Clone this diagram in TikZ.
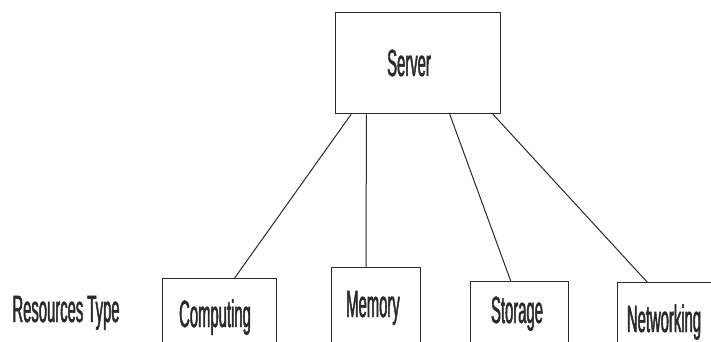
\documentclass[tikz,border=0pt]{standalone}
\usepackage{fontspec}
\newfontfamily\condfont[FakeStretch=0.39,FakeBold=1.2]{Liberation Sans}
\usetikzlibrary{calc}
\definecolor{ink}{HTML}{2A2A2A}
\tikzset{
  box/.style={draw=ink, line width=1.3pt, fill=white, rectangle, inner sep=0pt, anchor=north west},
  lbl/.style={font=\condfont\fontsize{38}{42}\selectfont, text=ink, anchor=base, inner sep=0pt},
  link/.style={draw=ink, line width=1pt}
}
\begin{document}
\begin{tikzpicture}[x=1pt,y=-1pt]
\clip (0,0) rectangle (711,342);
\fill[white] (0,0) rectangle (711,342);
% boxes
\node[box, minimum width=165pt, minimum height=101pt] (server) at (335,12) {};
\node[box, minimum width=114pt, minimum height=90pt] (comp) at (162,278) {};
\node[box, minimum width=89pt, minimum height=100pt] (mem) at (331,267) {};
\node[box, minimum width=98pt, minimum height=90pt] (stor) at (470,281) {};
\node[box, minimum width=110pt, minimum height=90pt] (net) at (617,282) {};
% connectors
\draw[link] ($(server.south west)!0.097!(server.south east)$) -- ($(comp.north west)!0.63!(comp.north east)$);
\draw[link] ($(server.south west)!0.188!(server.south east)$) -- ($(mem.north west)!0.39!(mem.north east)$);
\draw[link] ($(server.south west)!0.69!(server.south east)$) -- ($(stor.north west)!0.41!(stor.north east)$);
\draw[link] ($(server.south west)!0.95!(server.south east)$) -- ($(net.north west)!0.27!(net.north east)$);
% labels
\node[lbl] (tserver) at (409,76) {Server};
\node[lbl] (trt) at (66,322) {Resources Type};
\node[lbl] (tcomp) at (215,327) {Computing};
\node[lbl] (tmem) at (373,317) {Memory};
\node[lbl] (tstor) at (517,323) {Storage};
\node[lbl] (tnet) at (664,332) {Networking};
\end{tikzpicture}
\end{document}
